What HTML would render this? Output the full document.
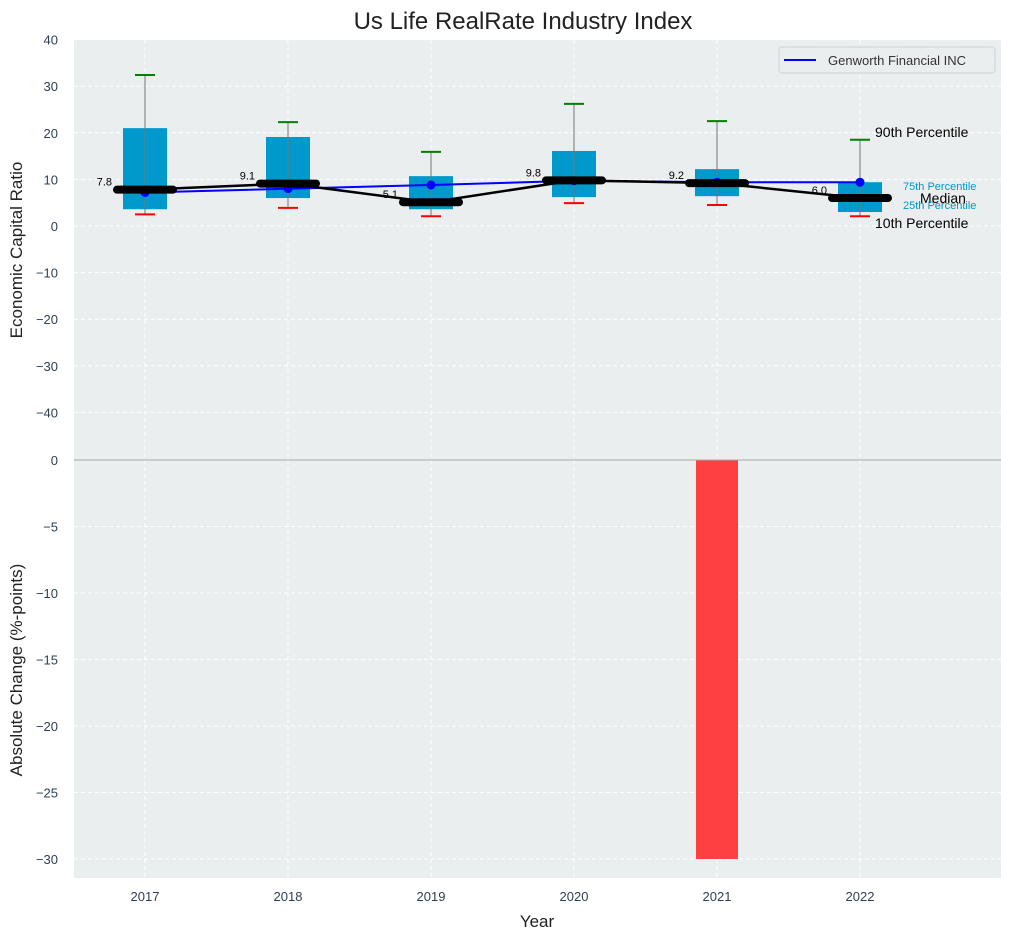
<!DOCTYPE html>
<html><head><meta charset="utf-8">
<style>
body{margin:0;background:#fff;font-family:"Liberation Sans","DejaVu Sans",sans-serif;}
svg text{font-family:"Liberation Sans","DejaVu Sans",sans-serif;}
</style></head>
<body>
<svg id="chart" width="1012" height="940" viewBox="0 0 1012 940" xmlns="http://www.w3.org/2000/svg">
<rect x="0" y="0" width="1012" height="940" fill="#fff"/>
<text x="523" y="29" font-size="24" text-anchor="middle" fill="#222">Us Life RealRate Industry Index</text>
<rect x="74" y="40" width="927" height="420" fill="#eaeeef"/>
<rect x="74" y="460" width="927" height="418" fill="#eaeeef"/>
<g id="grid"></g>
<g id="marks"></g>
<line x1="74" y1="460" x2="1001" y2="460" stroke="#aaa" stroke-width="1"/>
<text x="22" y="250" font-size="17" text-anchor="middle" transform="rotate(-90 22 250)" fill="#222">Economic Capital Ratio</text>
<text x="22" y="670" font-size="17" text-anchor="middle" transform="rotate(-90 22 670)" fill="#222">Absolute Change (%-points)</text>
<text x="537" y="927" font-size="17" text-anchor="middle" fill="#222">Year</text>
<g>
<rect x="779" y="47" width="216" height="26" rx="3" fill="#eaeeef" stroke="#cfd3d6"/>
<line x1="784" y1="60" x2="816" y2="60" stroke="#0000ff" stroke-width="2"/>
<text x="828" y="65" font-size="13" fill="#333">Genworth Financial INC</text>
</g>
<text x="875" y="137" font-size="14" fill="#000">90th Percentile</text>
<text x="903" y="190" font-size="11" fill="#0099cc">75th Percentile</text>
<text x="920" y="203" font-size="14" fill="#000">Median</text>
<text x="903" y="209" font-size="11" fill="#0099cc">25th Percentile</text>
<text x="875" y="228" font-size="14" fill="#000">10th Percentile</text>
</svg>
<script>
const years=['2017','2018','2019','2020','2021','2022'];
const p90=[32.4,22.3,15.9,26.2,22.5,18.5];
const p75=[21.0,19.1,10.7,16.1,12.2,9.4];
const median=[7.8,9.1,5.1,9.8,9.2,6.0];
const p25=[3.6,6.0,3.6,6.2,6.4,3.0];
const p10=[2.5,3.9,2.1,4.9,4.5,2.1];
const genworth=[7.2,8.0,8.8,9.7,9.4,9.4];
const change=[0,0,0,0,-30,0];
const topTicks=[40,30,20,10,0,-10,-20,-30,-40];
const botTicks=[0,-5,-10,-15,-20,-25,-30];
const NS='http://www.w3.org/2000/svg';
const xS=i=>145+i*143;
const yT=v=>226-v*4.66;
const yBot=v=>460+(-v)*13.3;
const grid=document.getElementById('grid'),marks=document.getElementById('marks');
const tickColor='#2e3f52';
function el(t,a,p){const e=document.createElementNS(NS,t);for(const k in a)e.setAttribute(k,a[k]);(p||marks).appendChild(e);return e;}
topTicks.forEach(v=>{
 el('line',{x1:74,x2:1001,y1:yT(v),y2:yT(v),stroke:'#fff','stroke-dasharray':'4,3'},grid);
 const t=el('text',{x:58,y:yT(v)+5,'font-size':13,'text-anchor':'end',fill:tickColor},grid);t.textContent=v<0?'\u2212'+(-v):v;
 
 
});
botTicks.forEach(v=>{
 if(v!==0)el('line',{x1:74,x2:1001,y1:yBot(v),y2:yBot(v),stroke:'#fff','stroke-dasharray':'4,3'},grid);
 const t=el('text',{x:58,y:yBot(v)+5,'font-size':13,'text-anchor':'end',fill:tickColor},grid);t.textContent=v<0?'\u2212'+(-v):v;
 
 
});
years.forEach((y,i)=>{
 el('line',{x1:xS(i),x2:xS(i),y1:40,y2:878,stroke:'#fff','stroke-dasharray':'4,3'},grid);
 const t=el('text',{x:xS(i),y:901,'font-size':13,'text-anchor':'middle',fill:tickColor},grid);t.textContent=y;
 
 
});
years.forEach((y,i)=>{
 const x=xS(i);
 const b=el('rect',{x:x-22,y:yT(p75[i]),width:44,height:yT(p25[i])-yT(p75[i]),fill:'#0099cc'});
 
 
 el('line',{x1:x,x2:x,y1:yT(p90[i]),y2:yT(p10[i]),stroke:'#777','stroke-width':1});
 el('line',{x1:x-10,x2:x+10,y1:yT(p90[i]),y2:yT(p90[i]),stroke:'#008000','stroke-width':2});
 el('line',{x1:x-10,x2:x+10,y1:yT(p10[i]),y2:yT(p10[i]),stroke:'#ff0000','stroke-width':2});
 if(change[i]!==0){
  const r=el('rect',{x:x-21,y:Math.min(yBot(0),yBot(change[i])),width:42,height:Math.abs(yBot(change[i])-yBot(0)),fill:'#ff4040'});
  
  
 }
});
el('polyline',{points:genworth.map((v,i)=>xS(i)+','+yT(v)).join(' '),fill:'none',stroke:'#0000ff','stroke-width':2});
genworth.forEach((v,i)=>el('circle',{cx:xS(i),cy:yT(v),r:4.5,fill:'#0000ff'}));
el('polyline',{points:median.map((v,i)=>xS(i)+','+yT(v)).join(' '),fill:'none',stroke:'#000','stroke-width':2.5});
median.forEach((v,i)=>{
 const m=el('line',{x1:xS(i)-28,x2:xS(i)+28,y1:yT(v),y2:yT(v),stroke:'#000','stroke-width':8,'stroke-linecap':'round'});
 
 
 const t=el('text',{x:xS(i)-33,y:yT(v)-4,'font-size':11,'text-anchor':'end',fill:'#000'});t.textContent=v.toFixed(1);
 
 
});
</script>
</body></html>
